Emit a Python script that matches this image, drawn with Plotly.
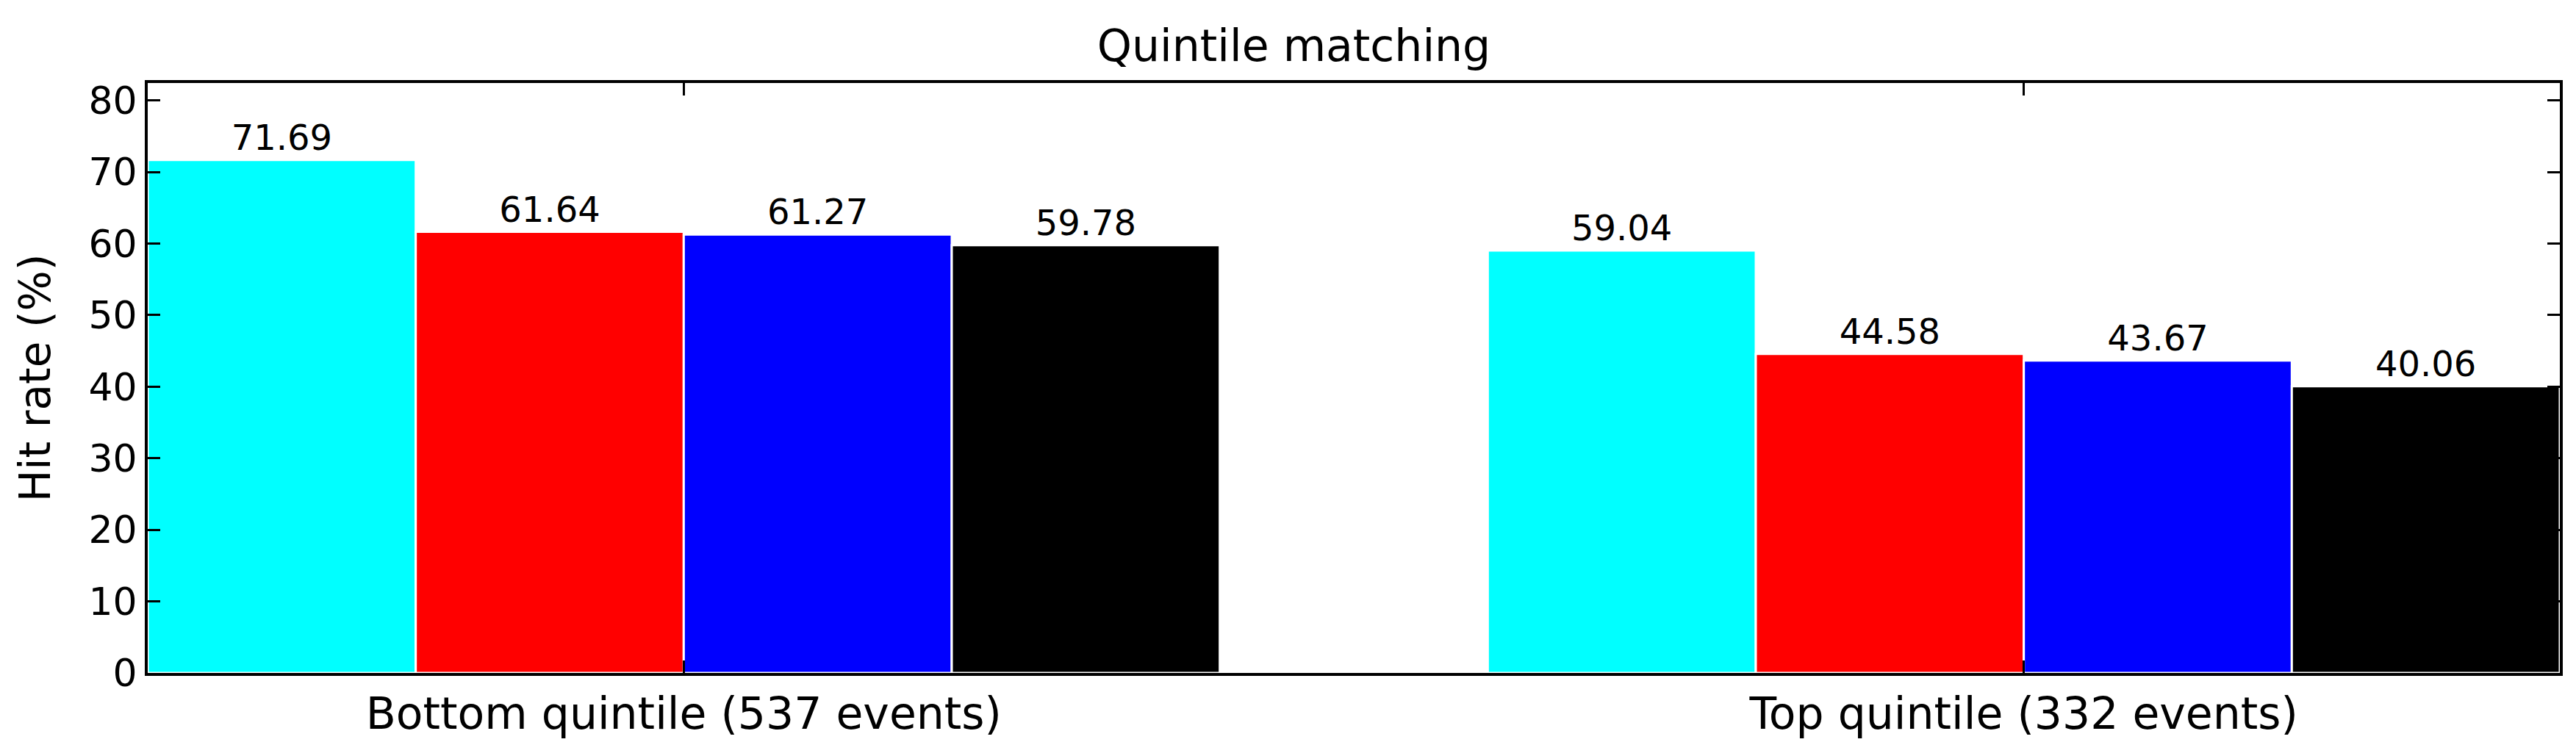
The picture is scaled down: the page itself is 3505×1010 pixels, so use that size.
import plotly.graph_objects as go

groups = ['Bottom quintile (537 events)', 'Top quintile (332 events)']
series_colors = ['#00FFFF', '#FF0000', '#0000FF', '#000000']
series_values = [
    [71.69, 59.04],
    [61.64, 44.58],
    [61.27, 43.67],
    [59.78, 40.06],
]
y_ticks = [0, 10, 20, 30, 40, 50, 60, 70, 80]

font = 'DejaVu Sans'

fig = go.Figure()
for vals, col in zip(series_values, series_colors):
    fig.add_trace(go.Bar(
        x=groups, y=vals,
        marker=dict(color=col, line=dict(color='white', width=3)),
        texttemplate='%{y:.2f}', textposition='outside',
        textfont=dict(family=font, size=48, color='black'),
        constraintext='none', cliponaxis=False, showlegend=False,
    ))

fig.update_layout(
    width=3505, height=1010,
    barmode='group', bargap=0.2, bargroupgap=0,
    plot_bgcolor='white', paper_bgcolor='white',
    margin=dict(l=193, r=30, t=105, b=100),
    font=dict(family=font, color='black'),
    title=dict(text='Quintile matching', x=0.5, xanchor='center',
               y=0.947, yanchor='middle', yref='container',
               font=dict(family=font, size=60, color='black')),
)

fig.update_xaxes(
    range=[-0.4, 1.4],
    showline=True, linecolor='black', linewidth=4, mirror='ticks',
    ticks='inside', ticklen=17, tickwidth=3, tickcolor='black',
    tickfont=dict(family=font, size=60, color='black'),
    showgrid=False, zeroline=False,
)
fig.update_yaxes(
    range=[0, 82.44], tickvals=y_ticks,
    showline=True, linecolor='black', linewidth=4, mirror='ticks',
    ticks='inside', ticklen=17, tickwidth=3, tickcolor='black',
    tickfont=dict(family=font, size=52, color='black'),
    title=dict(text='Hit rate (%)', font=dict(family=font, size=58, color='black'), standoff=34),
    showgrid=False, zeroline=False,
)

fig.write_html('out.html')
